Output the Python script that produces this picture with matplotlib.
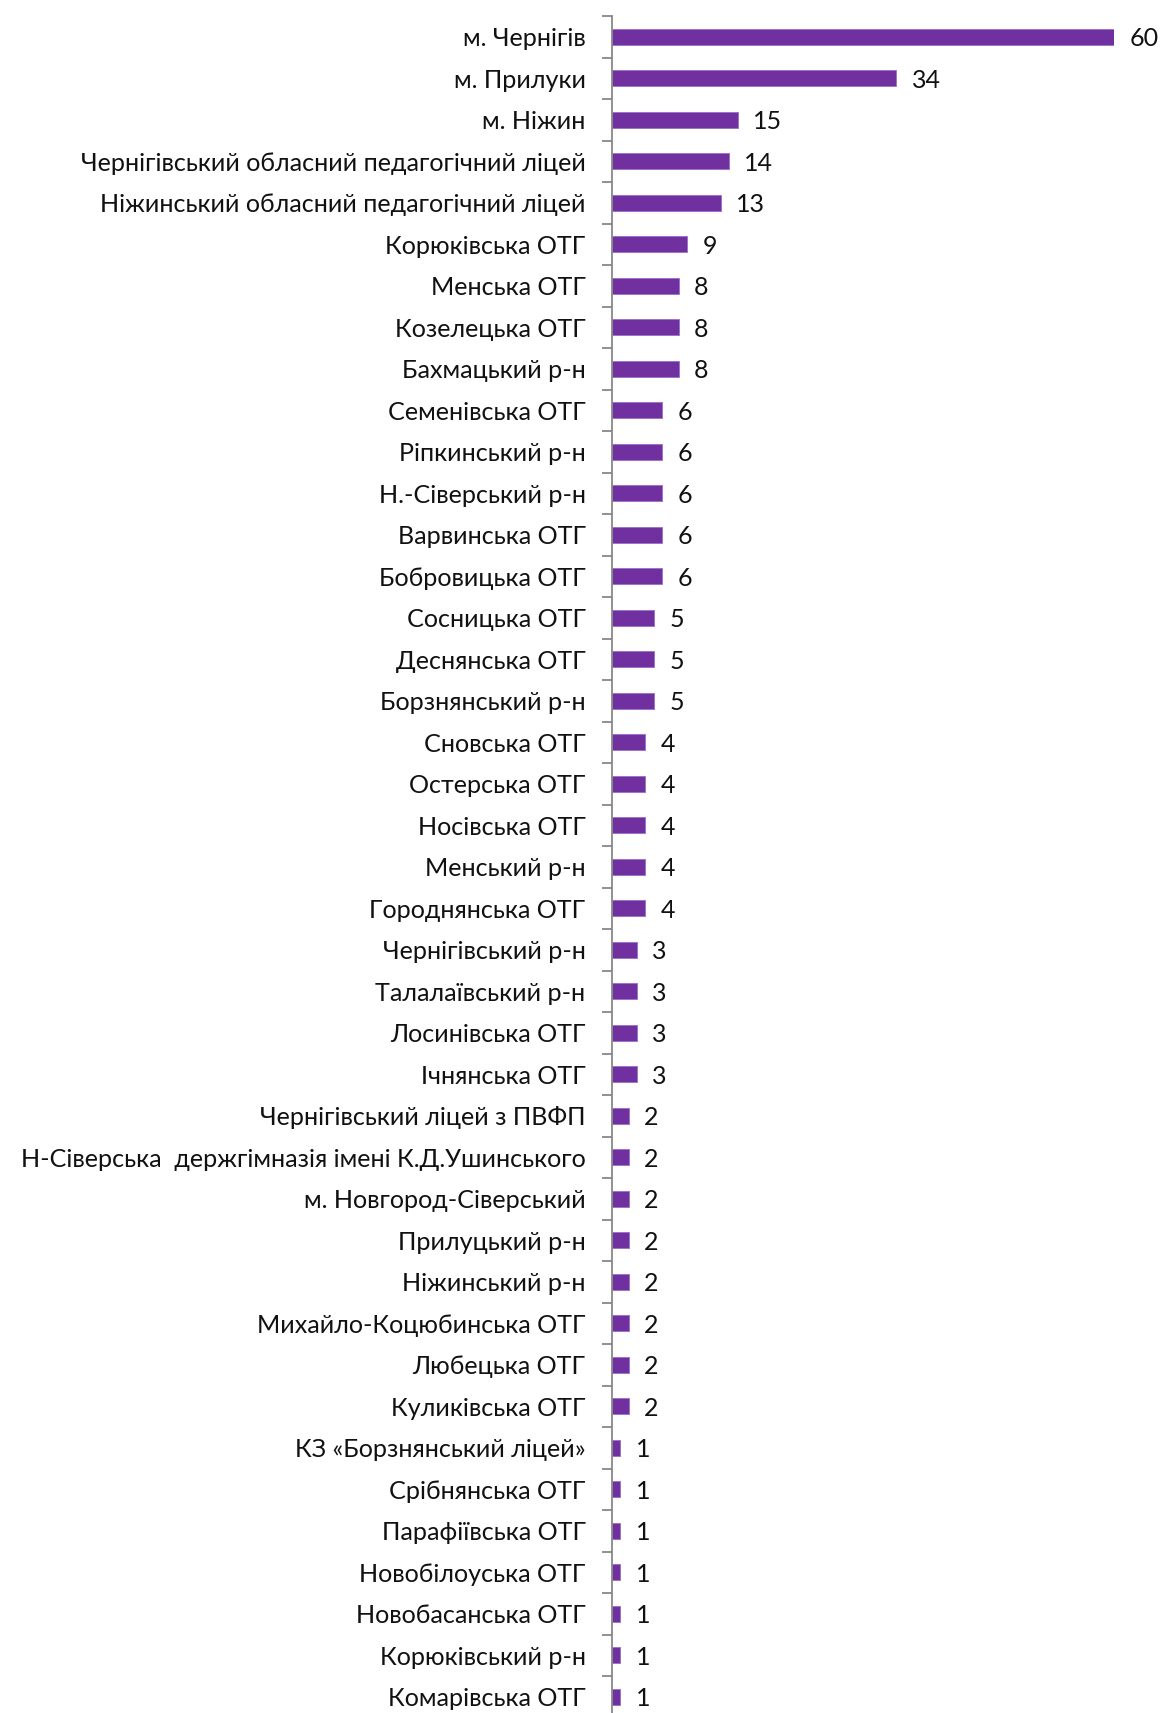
import matplotlib.pyplot as plt
from matplotlib.ticker import FixedLocator, NullFormatter

plt.rcParams['font.family'] = ['Lato', 'Open Sans', 'DejaVu Sans']

names = ['м. Чернігів', 'м. Прилуки', 'м. Ніжин',
         'Чернігівський обласний педагогічний ліцей',
         'Ніжинський обласний педагогічний ліцей',
         'Корюківська ОТГ', 'Менська ОТГ', 'Козелецька ОТГ', 'Бахмацький р-н',
         'Семенівська ОТГ', 'Ріпкинський р-н', 'Н.-Сіверський р-н',
         'Варвинська ОТГ', 'Бобровицька ОТГ', 'Сосницька ОТГ',
         'Деснянська ОТГ', 'Борзнянський р-н', 'Сновська ОТГ',
         'Остерська ОТГ', 'Носівська ОТГ', 'Менський р-н',
         'Городнянська ОТГ', 'Чернігівський р-н', 'Талалаївський р-н',
         'Лосинівська ОТГ', 'Ічнянська ОТГ', 'Чернігівський ліцей з ПВФП',
         'Н-Сіверська  держгімназія імені К.Д.Ушинського',
         'м. Новгород-Сіверський', 'Прилуцький р-н', 'Ніжинський р-н',
         'Михайло-Коцюбинська ОТГ', 'Любецька ОТГ', 'Куликівська ОТГ',
         'КЗ «Борзнянський ліцей»', 'Срібнянська ОТГ', 'Парафіївська ОТГ',
         'Новобілоуська ОТГ', 'Новобасанська ОТГ', 'Корюківський р-н',
         'Комарівська ОТГ']
counts = [60, 34, 15, 14, 13, 9, 8, 8, 8, 6, 6, 6, 6, 6, 5, 5, 5, 4, 4, 4, 4, 4,
          3, 3, 3, 3, 2, 2, 2, 2, 2, 2, 2, 2, 1, 1, 1, 1, 1, 1, 1]

W, H = 1160, 1713
fig = plt.figure(figsize=(W / 100, H / 100), dpi=100)
ax = fig.add_axes([612 / W, 0, (1114 - 612) / W, 1 - 16 / H])

pos = list(range(len(names)))
ax.barh(pos, counts, height=0.39, color='#7030A0', edgecolor='#9b6cc4', linewidth=0.6)

for y, v in zip(pos, counts):
    ax.annotate(str(v), xy=(v, y), xytext=(11, -1.5), textcoords='offset points',
                va='center', ha='left', fontsize=18, color='#111111',
                annotation_clip=False)

ax.set_xlim(0, 60)
ax.set_ylim(40.39, -0.5)
ax.set_yticks(pos)
ax.set_yticklabels(names, fontsize=18.1, color='#111111')
ax.tick_params(axis='y', which='major', length=0, pad=19)
ax.yaxis.set_minor_locator(FixedLocator([i - 0.5 for i in range(len(names) + 1)]))
ax.yaxis.set_minor_formatter(NullFormatter())
ax.tick_params(axis='y', which='minor', length=7, width=1.3, color='#888888')
ax.set_xticks([])
for s in ['top', 'right', 'bottom']:
    ax.spines[s].set_visible(False)
ax.spines['left'].set_color('#888888')
ax.spines['left'].set_linewidth(1.3)

fig.savefig('out.png', dpi=100)
